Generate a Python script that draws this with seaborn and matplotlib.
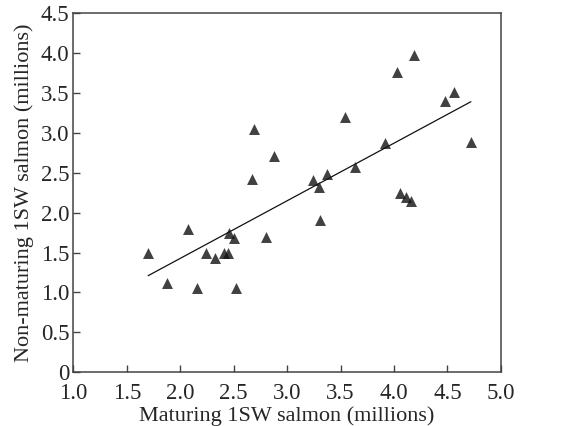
import matplotlib
matplotlib.use("Agg")
import matplotlib.pyplot as plt
import seaborn as sns
import pandas as pd

maturing = [1.70, 1.88, 2.07, 2.16, 2.24, 2.33, 2.41, 2.45, 2.46, 2.50, 2.52,
            2.67, 2.69, 2.80, 2.88, 3.24, 3.30, 3.31, 3.37, 3.54, 3.64, 3.92,
            4.03, 4.06, 4.11, 4.16, 4.19, 4.48, 4.56, 4.72]
non_maturing = [1.49, 1.12, 1.79, 1.06, 1.49, 1.43, 1.49, 1.49, 1.75, 1.68, 1.05,
                2.42, 3.05, 1.70, 2.71, 2.41, 2.32, 1.91, 2.48, 3.20, 2.57, 2.87,
                3.76, 2.25, 2.20, 2.14, 3.98, 3.40, 3.51, 2.89]
x_ticks = [1.0, 1.5, 2.0, 2.5, 3.0, 3.5, 4.0, 4.5, 5.0]
x_tick_labels = ["1.0", "1.5", "2.0", "2.5", "3.0", "3.5", "4.0", "4.5", "5.0"]
y_ticks = [0, 0.5, 1.0, 1.5, 2.0, 2.5, 3.0, 3.5, 4.0, 4.5]
y_tick_labels = ["0", "0.5", "1.0", "1.5", "2.0", "2.5", "3.0", "3.5", "4.0", "4.5"]

df = pd.DataFrame({"mat": maturing, "non": non_maturing})

sns.set_style("white")
plt.rcParams["font.family"] = ["Liberation Serif", "DejaVu Serif"]

fig = plt.figure(figsize=(5.64, 4.26), dpi=100)
ax = fig.add_axes([0.130, 0.126, 0.758, 0.8435])

sns.regplot(data=df, x="mat", y="non", ax=ax, ci=None, truncate=True,
            marker="^", scatter_kws=dict(s=62, color="#111111", linewidths=0, zorder=3),
            line_kws=dict(color="#111111", linewidth=0.9))

ax.set_xlim(1.0, 5.0)
ax.set_ylim(0, 4.5)
ax.set_xticks(x_ticks)
ax.set_xticklabels(x_tick_labels)
ax.set_yticks(y_ticks)
ax.set_yticklabels(y_tick_labels)
ax.tick_params(axis="both", direction="in", length=5, width=1, color="#444444",
               labelsize=16.5, bottom=True, left=True, top=False, right=False)
ax.tick_params(axis="x", pad=8)
ax.tick_params(axis="y", pad=3)
for s in ax.spines.values():
    s.set_color("#444444")
    s.set_linewidth(1.1)
ax.set_xlabel("Maturing 1SW salmon (millions)", fontsize=16, labelpad=1)
ax.set_ylabel("Non-maturing 1SW salmon (millions)", fontsize=16, labelpad=5)

fig.savefig("out.png", dpi=100)
